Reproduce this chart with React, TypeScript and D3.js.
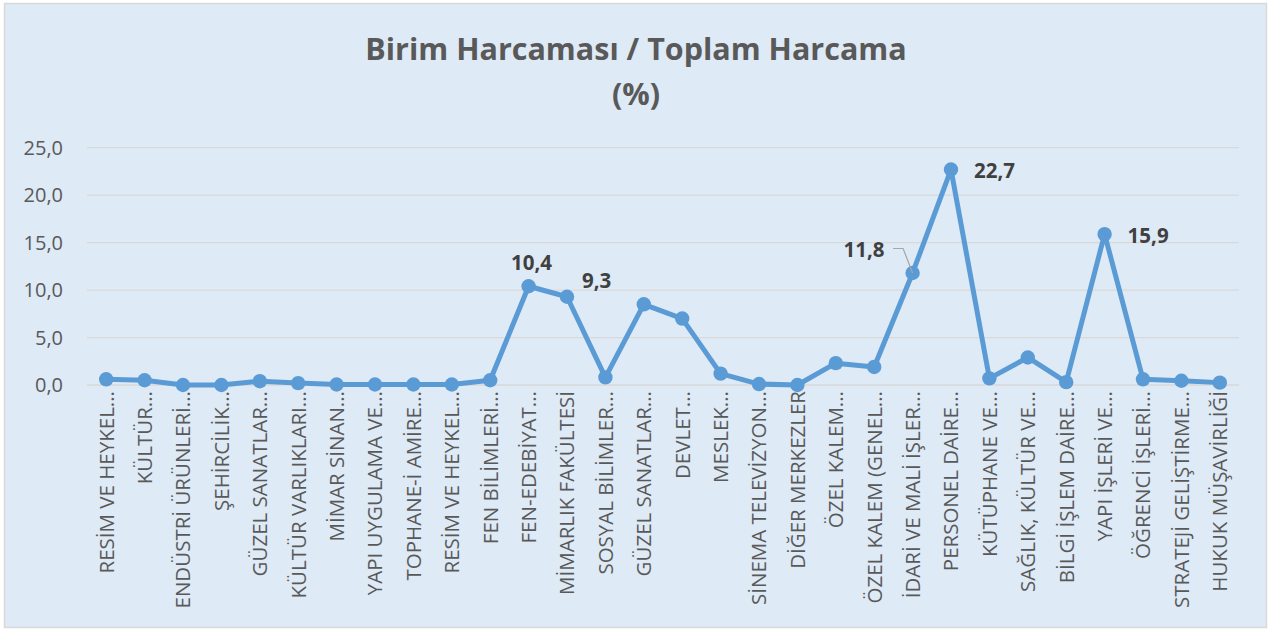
import React, { useEffect, useRef } from 'react';
import * as d3 from 'd3';

// birimler (eksen etiketleri, Excel'deki gibi kısaltılmış)
const units = [
  'RESİM VE HEYKEL...',
  'KÜLTÜR...',
  'ENDÜSTRİ ÜRÜNLERİ...',
  'ŞEHİRCİLİK...',
  'GÜZEL SANATLAR...',
  'KÜLTÜR VARLIKLARI...',
  'MİMAR SİNAN...',
  'YAPI UYGULAMA VE...',
  'TOPHANE-İ AMİRE...',
  'RESİM VE HEYKEL...',
  'FEN BİLİMLERİ...',
  'FEN-EDEBİYAT...',
  'MİMARLIK FAKÜLTESİ',
  'SOSYAL BİLİMLER...',
  'GÜZEL SANATLAR...',
  'DEVLET...',
  'MESLEK...',
  'SİNEMA TELEVİZYON...',
  'DİĞER MERKEZLER',
  'ÖZEL KALEM...',
  'ÖZEL KALEM (GENEL...',
  'İDARİ VE MALİ İŞLER...',
  'PERSONEL DAİRE...',
  'KÜTÜPHANE VE...',
  'SAĞLIK, KÜLTÜR VE...',
  'BİLGİ İŞLEM DAİRE...',
  'YAPI İŞLERİ VE...',
  'ÖĞRENCİ İŞLERİ...',
  'STRATEJİ GELİŞTİRME...',
  'HUKUK MÜŞAVİRLİĞİ',
];

// birim harcaması / toplam harcama (%)
const shares = [
  0.6, 0.5, 0.0, 0.0, 0.4, 0.2, 0.05, 0.05, 0.05, 0.05,
  0.5, 10.4, 9.3, 0.8, 8.5, 7.0, 1.2, 0.1, 0.0, 2.3,
  1.9, 11.8, 22.7, 0.7, 2.9, 0.3, 15.9, 0.6, 0.45, 0.25,
];

const yTicks = [0, 5, 10, 15, 20, 25];

// hangi noktalara değer etiketi yazılıyor
const labelled = [11, 12, 21, 22, 26];

const W = 1268, H = 631;
const font = '"Open Sans", "DejaVu Sans", sans-serif';
const fmt = (v: number) => v.toFixed(1).replace('.', ',');

export default function App() {
  const svgRef = useRef<SVGSVGElement>(null);

  useEffect(() => {
    const svg = d3.select(svgRef.current);
    svg.selectAll('*').remove();

    // çerçeve
    svg.append('rect')
      .attr('x', 4.5).attr('y', 3.5)
      .attr('width', 1262).attr('height', 624)
      .attr('fill', '#DEEAF6')
      .attr('stroke', '#D9D9D9')
      .attr('stroke-width', 1.5);

    // başlık
    svg.append('text')
      .attr('x', 636).attr('y', 60)
      .attr('text-anchor', 'middle')
      .style('font-family', font).style('font-weight', 700).style('font-size', '30.5px')
      .attr('fill', '#595959')
      .text('Birim Harcaması / Toplam Harcama');
    svg.append('text')
      .attr('x', 636).attr('y', 105)
      .attr('text-anchor', 'middle')
      .style('font-family', font).style('font-weight', 700).style('font-size', '30.5px')
      .attr('fill', '#595959')
      .text('(%)');

    const x = d3.scaleBand().domain(units.map((_, i) => String(i))).range([87, 1239]);
    const y = d3.scaleLinear().domain([0, 25]).range([385, 147.7]);
    const cx = (i: number) => (x(String(i)) as number) + x.bandwidth() / 2;

    // ızgara çizgileri
    svg.append('g').selectAll('line')
      .data(yTicks)
      .enter().append('line')
      .attr('x1', 87).attr('x2', 1239)
      .attr('y1', d => y(d)).attr('y2', d => y(d))
      .attr('stroke', '#D9D9D9').attr('stroke-width', 1.3);

    // y ekseni
    svg.append('g').selectAll('text')
      .data(yTicks)
      .enter().append('text')
      .attr('x', 63).attr('y', d => y(d))
      .attr('dy', '0.35em')
      .attr('text-anchor', 'end')
      .style('font-family', font).style('font-size', '20px')
      .attr('fill', '#595959')
      .text(d => fmt(d));

    // x ekseni etiketleri
    svg.append('g').selectAll('text')
      .data(units)
      .enter().append('text')
      .attr('transform', (_, i) => `translate(${cx(i)},391) rotate(-90)`)
      .attr('dy', '0.36em')
      .attr('text-anchor', 'end')
      .style('font-family', font).style('font-size', '20.5px')
      .attr('fill', '#595959')
      .text(d => d);

    // çizgi
    const line = d3.line<number>().x((_, i) => cx(i)).y(d => y(d));
    svg.append('path')
      .datum(shares)
      .attr('d', line)
      .attr('fill', 'none')
      .attr('stroke', '#5B9BD5')
      .attr('stroke-width', 5)
      .attr('stroke-linejoin', 'round');

    svg.append('g').selectAll('circle')
      .data(shares)
      .enter().append('circle')
      .attr('cx', (_, i) => cx(i))
      .attr('cy', d => y(d))
      .attr('r', 7.2)
      .attr('fill', '#5B9BD5');

    // 11,8 için kılavuz çizgi
    const i8 = 21;
    svg.append('path')
      .attr('d', `M${cx(i8) - 19.5},${y(shares[i8]) - 24.5} h10 L${cx(i8)},${y(shares[i8])}`)
      .attr('fill', 'none')
      .attr('stroke', '#A6A6A6')
      .attr('stroke-width', 1.2);

    // değer etiketleri
    const offsets: Record<number, [number, number, string]> = {
      11: [3, -16, 'middle'],
      12: [15, -9, 'start'],
      21: [-28, -16, 'end'],
      22: [23, 8, 'start'],
      26: [23, 9, 'start'],
    };
    svg.append('g').selectAll('text')
      .data(labelled)
      .enter().append('text')
      .attr('x', i => cx(i) + offsets[i][0])
      .attr('y', i => y(shares[i]) + offsets[i][1])
      .attr('text-anchor', i => offsets[i][2])
      .style('font-family', font).style('font-weight', 700).style('font-size', '20.5px')
      .attr('fill', '#404040')
      .text(i => fmt(shares[i]));
  }, []);

  return (
    <svg
      ref={svgRef}
      width={W}
      height={H}
      style={{ position: 'absolute', left: 0, top: 0, display: 'block' }}
    />
  );
}
